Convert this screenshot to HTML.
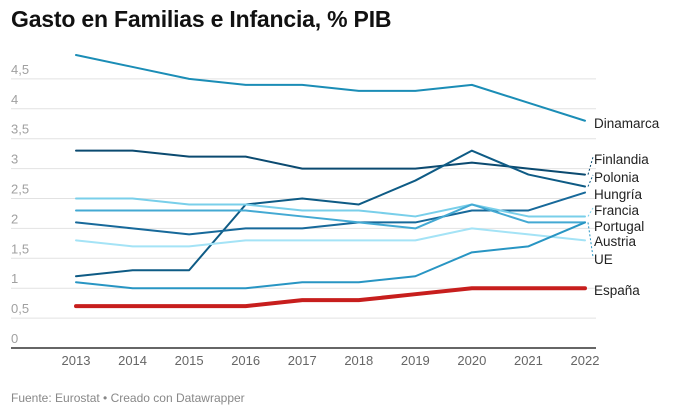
<!DOCTYPE html>
<html><head><meta charset="utf-8">
<style>
body{margin:0;background:#fff;font-family:"Liberation Sans",sans-serif;}
#wrap{position:relative;width:680px;height:417px;overflow:hidden;}
h1{position:absolute;left:11px;top:6px;margin:0;font-size:23px;font-weight:bold;color:#111;letter-spacing:-0.2px}
#foot{position:absolute;left:11px;top:391px;font-size:12px;color:#888}
</style></head><body>
<div id="wrap">
<h1>Gasto en Familias e Infancia, % PIB</h1>
<svg id="svg" width="680" height="417" style="position:absolute;left:0;top:0"></svg>
<div id="foot">Fuente: Eurostat • Creado con Datawrapper</div>
</div>
<script>
const years=[2013,2014,2015,2016,2017,2018,2019,2020,2021,2022];
const yTicks=[0,0.5,1,1.5,2,2.5,3,3.5,4,4.5];
const yTickLabels=["0","0,5","1","1,5","2","2,5","3","3,5","4","4,5"];
const dinamarca=[4.9,4.7,4.5,4.4,4.4,4.3,4.3,4.4,4.1,3.8];
const finlandia=[3.3,3.3,3.2,3.2,3.0,3.0,3.0,3.1,3.0,2.9];
const polonia=[1.2,1.3,1.3,2.4,2.5,2.4,2.8,3.3,2.9,2.7];
const hungria=[2.1,2.0,1.9,2.0,2.0,2.1,2.1,2.3,2.3,2.6];
const francia=[2.5,2.5,2.4,2.4,2.3,2.3,2.2,2.4,2.2,2.2];
const portugal=[2.3,2.3,2.3,2.3,2.2,2.1,2.0,2.4,2.1,2.1];
const austria=[1.8,1.7,1.7,1.8,1.8,1.8,1.8,2.0,1.9,1.8];
const ue=[1.1,1.0,1.0,1.0,1.1,1.1,1.2,1.6,1.7,2.1];
const espana=[0.7,0.7,0.7,0.7,0.8,0.8,0.9,1.0,1.0,1.0];
const NS="http://www.w3.org/2000/svg";
const svg=document.getElementById('svg');
const x=i=>76+i*(585-76)/(years.length-1);
const y=v=>348-v*59.8;
function mk(t,a){const e=document.createElementNS(NS,t);for(const k in a)e.setAttribute(k,a[k]);svg.appendChild(e);return e;}
yTicks.forEach((t,i)=>{
  const g=mk('line',{x1:11,x2:596,y1:y(t),y2:y(t),stroke:t===0?'#333':'#e2e2e2','stroke-width':t===0?1.5:1});
  
  
  const tx=mk('text',{x:11,y:y(t)-5,'font-size':13,fill:'#a0a0a0'});tx.textContent=yTickLabels[i];
  
  
});
years.forEach((yr,i)=>{
  const tx=mk('text',{x:x(i),y:365,'font-size':13,fill:'#666','text-anchor':'middle'});tx.textContent=yr;
  
  
});
const series=[
 ["Dinamarca",dinamarca,"#1b8db6",2,128],
 ["Finlandia",finlandia,"#0b4a70",2,164],
 ["Polonia",polonia,"#0e5b85",2,182],
 ["Hungría",hungria,"#17699a",2,199],
 ["Francia",francia,"#79cfea",2,215],
 ["Portugal",portugal,"#43a9d3",2,231],
 ["Austria",austria,"#a4e3f6",2,246],
 ["UE",ue,"#2895c3",2,264],
 ["España",espana,"#c71e1d",4,295]
];
series.forEach(s=>{
  const d=s[1].map((v,i)=>(i?'L':'M')+x(i)+','+y(v)).join('');
  const p=mk('path',{d:d,fill:'none',stroke:s[2],'stroke-width':s[3],'stroke-linejoin':'round','stroke-linecap':'round'});
  
  
  const last=y(s[1][s[1].length-1]);
  if(Math.abs(last-(s[4]-5))>6){
    const c=mk('line',{x1:588,y1:last,x2:593,y2:s[4]-7,stroke:s[2],'stroke-width':1,'stroke-dasharray':'2,2'});
    
    
  }
  const t=mk('text',{x:594,y:s[4],'font-size':13.5,fill:'#222'});t.textContent=s[0];
  
  
});
</script>
</body></html>
